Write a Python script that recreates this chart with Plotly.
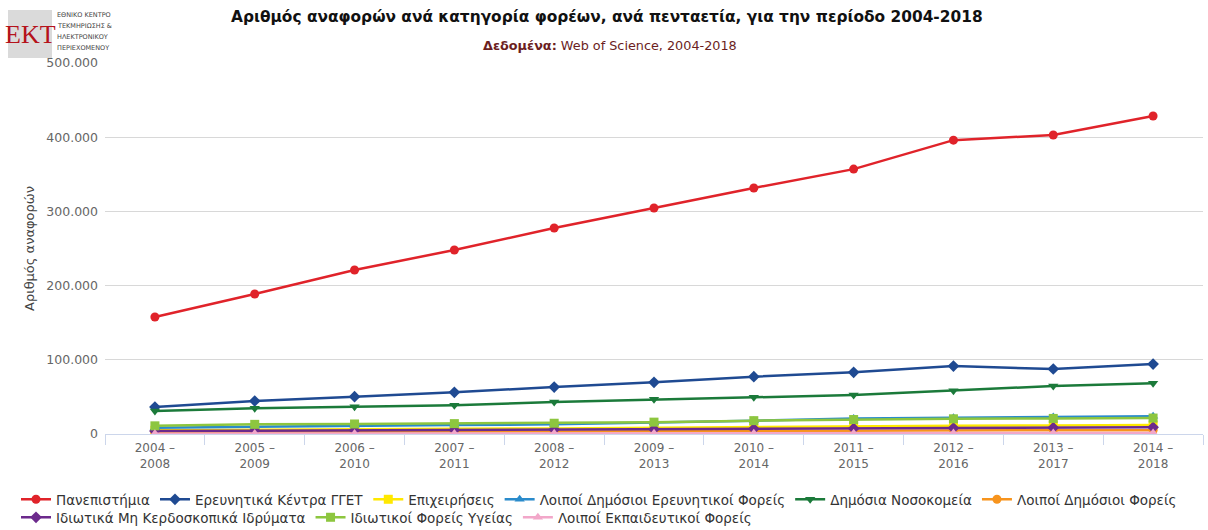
import plotly.graph_objects as go

categories = ["2004 –<br>2008", "2005 –<br>2009", "2006 –<br>2010", "2007 –<br>2011", "2008 –<br>2012",
              "2009 –<br>2013", "2010 –<br>2014", "2011 –<br>2015", "2012 –<br>2016", "2013 –<br>2017",
              "2014 –<br>2018"]

universities = [157700, 188700, 221000, 248000, 277600, 304600, 331500, 357000, 396000, 403000, 428600]
research_gget = [36400, 44500, 50300, 56200, 63300, 69700, 77200, 83100, 91600, 87600, 94300]
businesses = [5000, 6000, 6500, 7000, 7500, 8500, 9500, 10500, 11000, 11500, 12000]
other_public_research = [8500, 10000, 11000, 12000, 13000, 15000, 18000, 21000, 22000, 23000, 24000]
public_hospitals = [31000, 34600, 36800, 38700, 43100, 46700, 49400, 52600, 58400, 64700, 68300]
other_public = [2500, 3000, 3000, 3500, 3500, 4000, 4000, 4500, 4500, 5000, 5000]
private_nonprofit = [4000, 4500, 5000, 5500, 6000, 6500, 7000, 7500, 8000, 8500, 9000]
private_health = [11000, 13000, 13500, 14000, 14500, 16000, 18000, 19500, 20500, 21000, 21500]
other_education = [500, 600, 700, 800, 900, 1000, 1000, 1100, 1200, 1300, 1400]

series = [
    ("Πανεπιστήμια", universities, "#E0232A", "circle", "legend"),
    ("Ερευνητικά Κέντρα ΓΓΕΤ", research_gget, "#1F4A92", "diamond", "legend"),
    ("Επιχειρήσεις", businesses, "#FFE800", "square", "legend"),
    ("Λοιποί Δημόσιοι Ερευνητικοί Φορείς", other_public_research, "#2A8BCB", "triangle-up", "legend"),
    ("Δημόσια Νοσοκομεία", public_hospitals, "#1B7A3A", "triangle-down", "legend"),
    ("Λοιποί Δημόσιοι Φορείς", other_public, "#F7941D", "circle", "legend"),
    ("Ιδιωτικά Μη Κερδοσκοπικά Ιδρύματα", private_nonprofit, "#6C2A8C", "diamond", "legend2"),
    ("Ιδιωτικοί Φορείς Υγείας", private_health, "#8DC63F", "square", "legend2"),
    ("Λοιποί Εκπαιδευτικοί Φορείς", other_education, "#F2A7C9", "triangle-up", "legend2"),
]

W, H = 1208, 530
L, R, T, B = 105, 5, 63, 96
PW, PH = W - L - R, H - T - B


def px(x):
    return (x - L) / PW


def py(y):
    return (H - B - y) / PH


fig = go.Figure()
for name, vals, color, sym, lg in series:
    fig.add_trace(go.Scatter(
        x=categories, y=vals, name=name, mode="lines+markers",
        line=dict(color=color, width=2.5),
        marker=dict(symbol=sym, size=9, color=color),
        legend=lg,
    ))

FONT = "DejaVu Sans"
annotations = [
    dict(text="<b>Αριθμός αναφορών ανά κατηγορία φορέων, ανά πενταετία, για την περίοδο 2004-2018</b>",
         x=px(607), y=py(17), xref="paper", yref="paper", showarrow=False,
         font=dict(family=FONT, size=15.4, color="#111111"), xanchor="center", yanchor="middle"),
    dict(text="<b>Δεδομένα:</b> Web of Science, 2004-2018",
         x=px(610), y=py(46), xref="paper", yref="paper", showarrow=False,
         font=dict(family=FONT, size=12.8, color="#6B1E1E"), xanchor="center", yanchor="middle"),
    dict(text="EKT", x=px(30), y=py(34), xref="paper", yref="paper", showarrow=False,
         font=dict(family="Liberation Serif", size=26, color="#B5121B"), xanchor="center", yanchor="middle"),
]
small_lines = ["ΕΘΝΙΚΟ ΚΕΝΤΡΟ", "ΤΕΚΜΗΡΙΩΣΗΣ &", "ΗΛΕΚΤΡΟΝΙΚΟΥ", "ΠΕΡΙΕΧΟΜΕΝΟΥ"]
for i, t in enumerate(small_lines):
    annotations.append(dict(text=t, x=px(55), y=py(15 + i * 11), xref="paper", yref="paper",
                            showarrow=False, font=dict(family=FONT, size=6.5, color="#444444"),
                            xanchor="left", yanchor="middle"))

legend_common = dict(orientation="h", xanchor="left", yanchor="top",
                     font=dict(family=FONT, size=13.5, color="#333333"), itemwidth=30,
                     bgcolor="rgba(0,0,0,0)", traceorder="normal")

fig.update_layout(
    width=W, height=H,
    margin=dict(l=L, r=R, t=T, b=B, autoexpand=False),
    paper_bgcolor="white", plot_bgcolor="white",
    separators=",.",
    font=dict(family=FONT, size=12, color="#666666"),
    annotations=annotations,
    shapes=[dict(type="rect", xref="paper", yref="paper", x0=px(8), x1=px(52), y0=py(58), y1=py(10),
                 fillcolor="#DADADA", line=dict(width=0), layer="below")],
    xaxis=dict(type="category", range=[-0.5, 10.5], showgrid=False, showline=True, linecolor="#CCD6EB",
               linewidth=1, ticks="outside", tickson="boundaries", ticklen=10, tickcolor="#CCD6EB",
               tickfont=dict(family=FONT, size=12, color="#666666"), zeroline=False,
               ticklabelstandoff=3),
    yaxis=dict(range=[0, 500000], dtick=100000, tickformat=",d", showgrid=True, gridcolor="#D8D8D8",
               gridwidth=1, zeroline=False, showline=False, ticks="",
               tickfont=dict(family=FONT, size=12.5, color="#666666"), ticklabelstandoff=6,
               title=dict(text="Αριθμός αναφορών", font=dict(family=FONT, size=13, color="#444444"),
                          standoff=8)),
    legend=dict(x=px(16), y=py(484), **legend_common),
    legend2=dict(x=px(16), y=py(502), **legend_common),
)

fig.write_html("out.html", post_script="document.body.style.margin='0';",
               config={"displayModeBar": False})
